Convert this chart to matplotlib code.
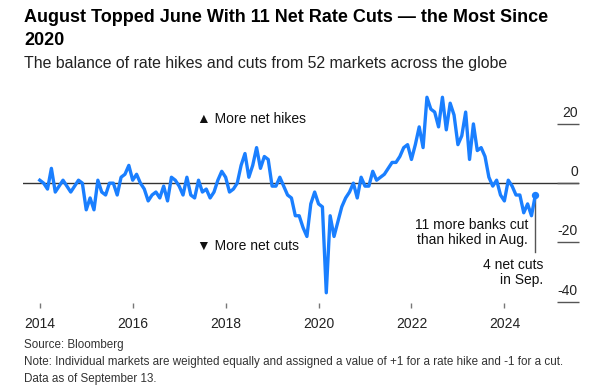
import numpy as np
import matplotlib
matplotlib.use('Agg')
import matplotlib.pyplot as plt
import matplotlib.transforms as mtransforms

# Arial互換のフォント、記号(▲▼)はDejaVuで補う
plt.rcParams['font.family'] = ['Liberation Sans', 'DejaVu Sans']
plt.rcParams['font.size'] = 10

# 月次データ 2014年1月〜2024年9月 (利上げ数 - 利下げ数)
start_year = 2014
net_hikes = [
    1, 0, -2, 5, -3, -1, 1, -1, -3, -1, 1, 0,           # 2014
    -9, -5, -9, 1, -3, -4, 0, 0, -4, 2, 3, 6,           # 2015
    1, 3, 0, -2, -6, -4, -3, -5, -1, -6, 2, 1,          # 2016
    -1, -4, 2, -4, -5, 1, -3, -2, -5, -3, 1, 4,         # 2017
    2, -3, -2, 0, 6, 10, 2, 6, 12, 5, 9, 8,             # 2018
    -1, -1, 2, -1, -4, -5, -11, -11, -15, -18, -7, -3,  # 2019
    -7, -8, -37, -11, -18, -13, -8, -5, -3, 0, -5, 2,   # 2020
    -1, -1, 4, 1, 2, 3, 5, 7, 7, 9, 12, 13,             # 2021
    8, 13, 19, 12, 29, 25, 24, 19, 29, 18, 27, 23,      # 2022
    13, 16, 24, 8, 20, 11, 12, 9, 2, -1, 1, -4,         # 2023
    -6, 1, -1, -4, -4, -10, -7, -11, -4,                # 2024
]
x_ticks = [2014, 2016, 2018, 2020, 2022, 2024]
y_ticks = [20, 0, -20, -40]
y_tick_labels = ['20', '0', '-20', '-40']

BLUE = '#1a7fff'
DARK = '#333333'

months = start_year + np.arange(len(net_hikes)) / 12.0
values = np.array(net_hikes)

fig = plt.figure(figsize=(5.91, 3.92), dpi=100, facecolor='white')
ax = fig.add_axes([0.039, 0.226, 0.941, 0.541])

# ゼロライン
ax.axhline(0, color=DARK, linewidth=1.0, zorder=1)

# 本体の折れ線
ax.plot(months, values, color=BLUE, linewidth=2.4, solid_joinstyle='round', zorder=3)

# 最新月のマーカーと引き出し線
ax.plot([months[-1], months[-1]], [values[-1], -23.3], color='#555555', linewidth=1.0, zorder=2)
ax.scatter([months[-1]], [values[-1]], s=28, color=BLUE, zorder=4, linewidths=0)

ax.set_xlim(2013.64, 2025.61)
ax.set_ylim(-40.6, 31)

for side in ['top', 'bottom', 'left', 'right']:
    ax.spines[side].set_visible(False)

ax.set_xticks(x_ticks)
ax.set_xticklabels([str(t) for t in x_ticks])
ax.tick_params(axis='x', direction='out', length=3.6, width=1.0, color='#777777',
               labelsize=10, labelcolor='#222222', pad=6)

# 右側の目盛り: 短い横線 + 線の上にラベル
ax.yaxis.tick_right()
ax.set_yticks(y_ticks)
ax.set_yticklabels([])
ax.tick_params(axis='y', direction='in', length=16, width=1.0, color='#555555', right=True, left=False)
trans = mtransforms.offset_copy(mtransforms.blended_transform_factory(ax.transAxes, ax.transData),
                                fig=fig, x=-1, y=5, units='points')
for v, lab in zip(y_ticks, y_tick_labels):
    ax.text(1.0, v, lab, transform=trans, ha='right', va='baseline', fontsize=10, color='#222222')

# 注釈
ax.text(2017.38, 21.7, '\u25b2 More net hikes', ha='left', va='center', fontsize=10, color='#111111')
ax.text(2017.38, -21.1, '\u25bc More net cuts', ha='left', va='center', fontsize=10, color='#111111')
ax.text(2024.51, -16.6, '11 more banks cut\nthan hiked in Aug.', ha='right', va='center',
        fontsize=10, linespacing=1.1, color='#111111')
ax.text(2024.84, -30.1, '4 net cuts\nin Sep.', ha='right', va='center',
        fontsize=10, linespacing=1.1, color='#111111')

# タイトル・サブタイトル・脚注
fig.text(0.041, 0.978, 'August Topped June With 11 Net Rate Cuts \u2014 the Most Since\n2020',
         ha='left', va='top', fontsize=13, fontweight='bold', linespacing=1.5, color='black')
fig.text(0.041, 0.837, 'The balance of rate hikes and cuts from 52 markets across the globe',
         ha='left', va='center', fontsize=11.4, color='#222222')
fig.text(0.041, 1 - 345 / 392, 'Source: Bloomberg', ha='left', va='center', fontsize=8.4, color='#333333')
fig.text(0.041, 1 - 362 / 392,
         'Note: Individual markets are weighted equally and assigned a value of +1 for a rate hike and -1 for a cut.',
         ha='left', va='center', fontsize=8.4, color='#333333')
fig.text(0.041, 1 - 379 / 392, 'Data as of September 13.', ha='left', va='center', fontsize=8.4, color='#333333')

fig.savefig('out.png', dpi=100, facecolor='white')
